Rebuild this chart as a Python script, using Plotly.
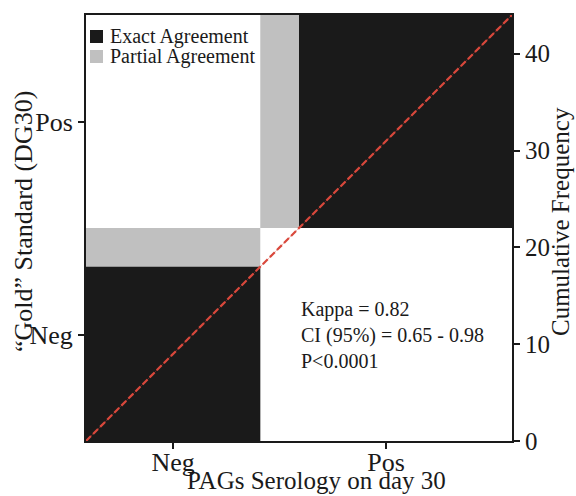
import plotly.graph_objects as go

# ---- data ----
categories = ["Neg", "Pos"]
pag_totals = [18, 26]      # PAGs serology (columns, x)
gold_totals = [22, 22]     # "Gold" standard DG30 (rows, y)
exact_agree = [18, 22]     # diagonal (exact agreement) counts
cum_ticks = [0, 10, 20, 30, 40]
legend_labels = ["Exact Agreement", "Partial Agreement"]
stats_lines = ["Kappa = 0.82", "CI (95%) = 0.65 - 0.98", "P<0.0001"]

N = sum(pag_totals)
BLACK = "#1a1a1a"
GRAY = "#c0c0c0"
RED = "#d9483c"
FONT = "Liberation Serif, Times New Roman, serif"

# cumulative boundaries
xb = [0]
for v in pag_totals:
    xb.append(xb[-1] + v)
yb = [0]
for v in gold_totals:
    yb.append(yb[-1] + v)

fig = go.Figure()

def rect(x0, x1, y0, y1, color):
    fig.add_trace(go.Scatter(
        x=[x0, x1, x1, x0, x0], y=[y0, y0, y1, y1, y0],
        fill="toself", fillcolor=color, mode="lines",
        line=dict(width=0, color=color), hoverinfo="skip", showlegend=False))

for i in range(len(categories)):
    x0, x1, y0, y1 = xb[i], xb[i + 1], yb[i], yb[i + 1]
    # partial agreement fills the category box
    rect(x0, x1, y0, y1, GRAY)
    n = exact_agree[i]
    if i == 0:
        rect(x0, x0 + n, y0, y0 + n, BLACK)
    else:
        rect(x1 - n, x1, y1 - n, y1, BLACK)

# diagonal reference line
fig.add_trace(go.Scatter(x=[0, N], y=[0, N], mode="lines",
                         line=dict(color="rgba(217,72,60,0.45)", width=0.8),
                         hoverinfo="skip", showlegend=False))
fig.add_trace(go.Scatter(x=[0, N], y=[0, N], mode="lines",
                         line=dict(color=RED, width=2.2, dash="7px,3px"),
                         hoverinfo="skip", showlegend=False))

# right axis carrier
fig.add_trace(go.Scatter(x=[None], y=[None], yaxis="y2", showlegend=False, hoverinfo="skip"))

xt = [exact_agree[0] / 2, (exact_agree[0] + N) / 2]
yt = [(yb[i] + yb[i + 1]) / 2 for i in range(2)]

fig.update_layout(
    width=576, height=496,
    margin=dict(l=86, r=64, t=15, b=55),
    paper_bgcolor="white", plot_bgcolor="white",
    font=dict(family=FONT, color="#1a1a1a"),
    showlegend=False,
    xaxis=dict(range=[0, N], tickvals=xt, ticktext=categories,
               ticks="outside", ticklen=6, tickwidth=2, tickcolor="#1a1a1a",
               ticklabelstandoff=-9,
               showline=True, linewidth=2, linecolor="#1a1a1a", mirror=True,
               showgrid=False, zeroline=False, tickfont=dict(size=26)),
    yaxis=dict(range=[0, N], tickvals=yt, ticktext=categories,
               ticks="outside", ticklen=6, tickwidth=2, tickcolor="#1a1a1a",
               showline=True, linewidth=2, linecolor="#1a1a1a",
               showgrid=False, zeroline=False, tickfont=dict(size=26)),
    yaxis2=dict(range=[0, N], overlaying="y", side="right", tickvals=cum_ticks,
                ticks="outside", ticklen=6, tickwidth=2, tickcolor="#1a1a1a",
                showline=True, linewidth=2, linecolor="#1a1a1a",
                showgrid=False, zeroline=False, tickfont=dict(size=25)),
)

# manual legend (paper coords)
def px2x(px):
    return (px - 86) / 426.0

def py2y(py):
    return (441 - py) / 426.0

for k, (lab, col) in enumerate(zip(legend_labels, [BLACK, GRAY])):
    top = 30 + 20 * k
    fig.add_shape(type="rect", xref="paper", yref="paper",
                  x0=px2x(90), x1=px2x(103), y0=py2y(top + 13), y1=py2y(top),
                  fillcolor=col, line=dict(width=0))
    fig.add_annotation(text=lab, x=px2x(108), y=py2y(top + 7), xref="paper", yref="paper",
                       xanchor="left", yanchor="middle", showarrow=False,
                       font=dict(size=20, family=FONT, color="#1a1a1a"))

fig.add_annotation(text="<br>".join(stats_lines), x=22, y=11.0, xref="x", yref="y",
                   xanchor="left", yanchor="middle", align="left", showarrow=False,
                   font=dict(size=20, family=FONT, color="#1a1a1a"))
fig.add_annotation(text="PAGs Serology on day 30", x=px2x(316), y=py2y(480), xref="paper", yref="paper",
                   xanchor="center", yanchor="middle", showarrow=False,
                   font=dict(size=25, family=FONT, color="#1a1a1a"))
fig.add_annotation(text="“Gold” Standard (DG30)", x=px2x(23), y=0.514, xref="paper", yref="paper",
                   xanchor="center", yanchor="middle", textangle=-90, showarrow=False,
                   font=dict(size=26, family=FONT, color="#1a1a1a"))
fig.add_annotation(text="Cumulative Frequency", x=px2x(560), y=0.514, xref="paper", yref="paper",
                   xanchor="center", yanchor="middle", textangle=-90, showarrow=False,
                   font=dict(size=25, family=FONT, color="#1a1a1a"))

fig.write_html("out.html")
